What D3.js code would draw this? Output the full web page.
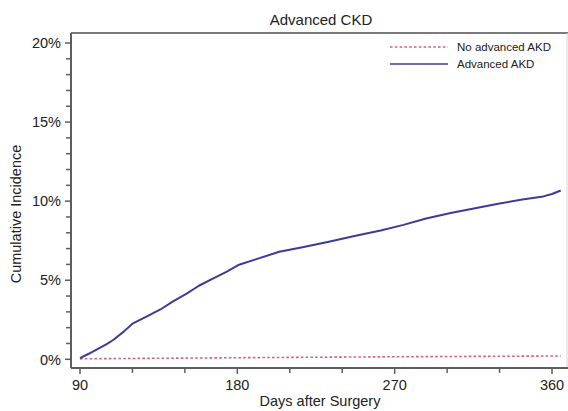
<!DOCTYPE html>
<html><head><meta charset="utf-8">
<script src="https://cdn.jsdelivr.net/npm/d3@7"></script>
<style>html,body{margin:0;padding:0;background:#fff;}svg{display:block;font-family:"Liberation Sans",Arial,sans-serif;}</style>
</head><body>
<script>
const title = "Advanced CKD";
const xLabel = "Days after Surgery";
const yLabel = "Cumulative Incidence";
const seriesNames = ["No advanced AKD", "Advanced AKD"];
const xTicks = [90, 180, 270, 360];
const xMinorTicks = [120, 150, 210, 240, 300, 330];
const yTicks = [0, 5, 10, 15, 20];
const yMinorTicks = [1,2,3,4,6,7,8,9,11,12,13,14,16,17,18,19];

const advDays = [90,95,100,105,109,115,120,128,136,143,151,158,166,174,181,190,204,218,233,247,262,275,288,302,316,330,343,355,360,365];
const advVals = [0.08,0.35,0.65,0.95,1.22,1.75,2.25,2.7,3.15,3.65,4.15,4.65,5.1,5.55,5.98,6.3,6.8,7.1,7.45,7.8,8.15,8.5,8.9,9.25,9.55,9.85,10.1,10.3,10.45,10.67];
const noDays = [90,180,270,365];
const noVals = [0.03,0.1,0.16,0.21];

(function(){
const W = 568, H = 411;
const svg = d3.select("body").append("svg").attr("width", W).attr("height", H);

const x = d3.scaleLinear().domain([90, 360]).range([80, 552]);
const y = d3.scaleLinear().domain([0, 20]).range([359.3, 43]);
const pL = 71, pT = 33, pB = 368, pR = 567;
const axisColor = "#5e5e5e";
const textColor = "#222";

svg.append("line").attr("x1", pL).attr("x2", W).attr("y1", pT).attr("y2", pT)
  .attr("stroke", "#7a7a7a").attr("stroke-width", 2);
svg.append("line").attr("x1", pR).attr("x2", pR).attr("y1", pT).attr("y2", pB)
  .attr("stroke", "#d8d8d8").attr("stroke-width", 1);

svg.append("line").attr("x1", pL).attr("x2", pL).attr("y1", pT).attr("y2", pB)
  .attr("stroke", axisColor).attr("stroke-width", 2);
svg.selectAll(".ymaj").data(yTicks).enter().append("line")
  .attr("x1", pL - 6).attr("x2", pL).attr("y1", d => y(d)).attr("y2", d => y(d))
  .attr("stroke", axisColor).attr("stroke-width", 1.5);
svg.selectAll(".ymin").data(yMinorTicks).enter().append("line")
  .attr("x1", pL - 5).attr("x2", pL).attr("y1", d => y(d)).attr("y2", d => y(d))
  .attr("stroke", axisColor).attr("stroke-width", 1.5);
svg.selectAll(".ylab").data(yTicks).enter().append("text")
  .attr("x", 61).attr("y", d => y(d)).attr("dy", "0.36em").attr("text-anchor", "end")
  .attr("font-size", 14.5).attr("fill", textColor).text(d => d + "%");

svg.append("line").attr("x1", pL).attr("x2", W).attr("y1", pB).attr("y2", pB)
  .attr("stroke", axisColor).attr("stroke-width", 2);
svg.selectAll(".xmaj").data(xTicks).enter().append("line")
  .attr("x1", d => x(d)).attr("x2", d => x(d)).attr("y1", pB).attr("y2", pB + 6)
  .attr("stroke", axisColor).attr("stroke-width", 1.5);
svg.selectAll(".xmin").data(xMinorTicks).enter().append("line")
  .attr("x1", d => x(d)).attr("x2", d => x(d)).attr("y1", pB).attr("y2", pB + 5)
  .attr("stroke", axisColor).attr("stroke-width", 1.5);
svg.selectAll(".xlab").data(xTicks).enter().append("text")
  .attr("x", d => x(d)).attr("y", 390).attr("text-anchor", "middle")
  .attr("font-size", 14.5).attr("fill", textColor).text(d => d);

svg.append("text").attr("x", 321).attr("y", 25).attr("text-anchor", "middle")
  .attr("font-size", 15).attr("fill", textColor).text(title);
svg.append("text").attr("x", 320).attr("y", 406).attr("text-anchor", "middle")
  .attr("font-size", 14.5).attr("fill", textColor).text(xLabel);
svg.append("text").attr("transform", "translate(21,214) rotate(-90)").attr("text-anchor", "middle")
  .attr("font-size", 14.5).attr("fill", textColor).text(yLabel);

const line = d3.line().x(d => x(d[0])).y(d => y(d[1]));
svg.append("path").datum(noDays.map((d, i) => [d, noVals[i]]))
  .attr("d", line).attr("fill", "none").attr("stroke", "#d9607c")
  .attr("stroke-width", 1.6).attr("stroke-dasharray", "2.6,2.2");
svg.append("path").datum(advDays.map((d, i) => [d, advVals[i]]))
  .attr("d", line).attr("fill", "none").attr("stroke", "#3c3c98")
  .attr("stroke-width", 2).attr("stroke-linejoin", "round");

const lg = svg.append("g");
lg.append("line").attr("x1", 390).attr("x2", 448).attr("y1", 47).attr("y2", 47)
  .attr("stroke", "#d9607c").attr("stroke-width", 1.4).attr("stroke-dasharray", "2.6,2.2");
lg.append("text").attr("x", 457).attr("y", 47).attr("dy", "0.36em")
  .attr("font-size", 11.5).attr("fill", textColor).text(seriesNames[0]);
lg.append("line").attr("x1", 390).attr("x2", 448).attr("y1", 64).attr("y2", 64)
  .attr("stroke", "#3c3c98").attr("stroke-width", 1.6);
lg.append("text").attr("x", 457).attr("y", 64).attr("dy", "0.36em")
  .attr("font-size", 11.5).attr("fill", textColor).text(seriesNames[1]);
})();
</script>
</body></html>
